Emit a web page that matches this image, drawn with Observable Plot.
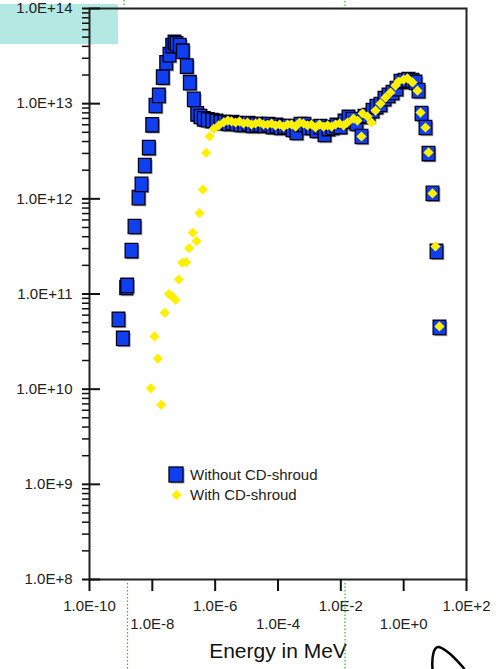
<!DOCTYPE html>
<html><head><meta charset="utf-8">
<script src="https://cdn.jsdelivr.net/npm/d3@7"></script>
<script src="https://cdn.jsdelivr.net/npm/@observablehq/plot@0.6"></script>
<style>html,body{margin:0;padding:0;background:#fff;} #chart{width:502px;height:669px;overflow:hidden;position:relative;}</style>
</head><body><div id="chart"></div>
<script>
// ---- data ----
const seriesNames = ["Without CD-shroud", "With CD-shroud"];

const energyWithout = [
  8.37e-10, 1.15e-9, 1.47e-9, 1.58e-9, 2.17e-9, 2.71e-9, 3.63e-9, 4.52e-9, 5.75e-9, 7.73e-9,
  9.91e-9, 1.26e-8, 1.61e-8, 2.15e-8, 2.76e-8, 3.52e-8, 4.29e-8, 5.08e-8, 5.87e-8, 7.48e-8,
  9.33e-8, 1.25e-7, 1.56e-7, 2.09e-7, 2.68e-7, 3.41e-7, 4.35e-7, 5.82e-7, 8.04e-7,
  1.10e-6, 1.48e-6, 1.98e-6, 2.65e-6, 3.56e-6, 4.78e-6, 6.40e-6, 8.59e-6, 1.15e-5, 1.54e-5,
  2.07e-5, 2.77e-5, 3.72e-5, 4.99e-5, 6.68e-5, 8.95e-5, 1.20e-4, 1.61e-4, 2.16e-4, 2.89e-4,
  3.88e-4, 5.20e-4, 6.97e-4, 9.35e-4, 1.25e-3, 1.68e-3, 2.25e-3, 3.02e-3, 4.05e-3, 5.43e-3,
  7.28e-3, 9.75e-3, 1.31e-2, 1.75e-2, 2.35e-2, 3.15e-2, 4.55e-2, 5.66e-2, 7.59e-2, 0.102,
  0.136, 0.183, 0.245, 0.329, 0.441, 0.591, 0.792, 1.06, 1.42, 1.91,
  2.38, 2.97, 3.70, 4.95, 6.17, 8.28, 11.1, 13.8
];
const fluxWithout = [
  5.40e10, 3.41e10, 1.17e11, 1.23e11, 2.86e11, 5.12e11, 1.03e12, 1.42e12, 2.24e12, 3.46e12,
  6.00e12, 9.57e12, 1.22e13, 1.90e13, 2.69e13, 3.27e13, 4.08e13, 4.40e13, 4.26e13, 4.08e13,
  3.56e13, 2.48e13, 1.66e13, 1.11e13, 7.83e12, 7.33e12, 6.93e12, 6.78e12, 6.65e12,
  6.50e12, 6.34e12, 6.34e12, 6.19e12, 6.34e12, 6.19e12, 6.04e12, 6.04e12, 6.19e12, 5.90e12,
  6.04e12, 6.04e12, 5.90e12, 6.04e12, 5.75e12, 5.90e12, 5.62e12, 5.75e12, 5.75e12, 5.35e12,
  4.98e12, 6.04e12, 6.04e12, 5.62e12, 5.62e12, 5.23e12, 5.75e12, 4.74e12, 5.48e12, 5.62e12,
  5.90e12, 5.75e12, 6.50e12, 7.16e12, 6.82e12, 6.19e12, 4.52e12, 7.33e12, 7.51e12, 8.47e12,
  9.33e12, 9.80e12, 1.13e13, 1.22e13, 1.31e13, 1.44e13, 1.71e13, 1.75e13, 1.79e13, 1.75e13,
  1.67e13, 1.37e13, 7.88e12, 5.62e12, 2.99e12, 1.14e12, 2.80e11, 4.45e10
];

const energyWith = [
  8.93e-9, 1.17e-8, 1.49e-8, 1.91e-8, 2.49e-8, 3.34e-8, 4.07e-8, 5.46e-8, 6.95e-8, 8.93e-8,
  1.20e-7, 1.49e-7, 1.94e-7, 2.55e-7, 3.17e-7, 4.04e-7, 5.19e-7, 6.61e-7, 9.04e-7, 1.30e-6,
  1.88e-6, 2.52e-6, 3.31e-6, 4.44e-6, 5.94e-6, 7.98e-6, 1.07e-5, 1.43e-5, 1.92e-5, 2.58e-5,
  3.45e-5, 4.63e-5, 6.21e-5, 8.32e-5, 1.12e-4, 1.50e-4, 2.00e-4, 2.69e-4, 3.61e-4, 4.83e-4,
  6.48e-4, 8.69e-4, 1.16e-3, 1.56e-3, 2.09e-3, 2.81e-3, 3.77e-3, 5.05e-3, 6.76e-3, 9.07e-3,
  1.22e-2, 1.63e-2, 2.53e-2, 3.39e-2, 4.55e-2, 4.90e-2, 7.06e-2, 9.46e-2, 0.127, 0.183,
  0.264, 0.381, 0.550, 0.684, 0.988, 1.32, 1.91, 2.75, 3.44, 4.95,
  6.17, 8.28, 10.3, 13.8
];
const fluxWith = [
  1.02e10, 3.58e10, 2.09e10, 6.85e9, 6.35e10, 1.00e11, 9.60e10, 8.69e10, 1.42e11, 2.13e11,
  2.16e11, 3.03e11, 4.40e11, 3.59e11, 7.06e11, 1.25e12, 3.05e12, 4.52e12, 5.44e12, 5.90e12,
  6.38e12, 6.65e12, 6.50e12, 6.34e12, 6.50e12, 6.19e12, 6.34e12, 6.04e12, 6.19e12, 6.34e12,
  6.04e12, 6.04e12, 6.19e12, 5.90e12, 6.04e12, 5.75e12, 6.04e12, 6.04e12, 5.75e12, 6.34e12,
  6.19e12, 5.90e12, 6.04e12, 5.62e12, 6.04e12, 5.75e12, 5.90e12, 5.75e12, 6.04e12, 6.19e12,
  5.90e12, 6.34e12, 6.98e12, 6.65e12, 4.52e12, 7.88e12, 7.33e12, 6.34e12, 8.47e12, 1.00e13,
  1.16e13, 1.31e13, 1.55e13, 1.71e13, 1.79e13, 1.84e13, 1.67e13, 1.37e13, 8.07e12, 5.62e12,
  3.07e12, 1.14e12, 3.16e11, 4.56e10
];

const xTickValues = [1e-10, 1e-8, 1e-6, 1e-4, 1e-2, 1e0, 1e2];
const xTickLabels = ["1.0E-10", "1.0E-8", "1.0E-6", "1.0E-4", "1.0E-2", "1.0E+0", "1.0E+2"];
const yTickValues = [1e8, 1e9, 1e10, 1e11, 1e12, 1e13, 1e14];
const yTickLabels = ["1.0E+8", "1.0E+9", "1.0E+10", "1.0E+11", "1.0E+12", "1.0E+13", "1.0E+14"];
const xTitle = "Energy in MeV";

// ---- tables ----
const without = energyWithout.map((e, i) => ({energy: e, flux: fluxWithout[i]}));
const withS = energyWith.map((e, i) => ({energy: e, flux: fluxWith[i]}));
const xLabel = new Map(xTickValues.map((v, i) => [v, xTickLabels[i]]));
const yLabel = new Map(yTickValues.map((v, i) => [v, yTickLabels[i]]));
const xRow1 = xTickValues.filter((d, i) => i % 2 === 0);
const xRow2 = xTickValues.filter((d, i) => i % 2 === 1);
const yMinor = [];
yTickValues.slice(0, -1).forEach(v => { for (let k = 2; k <= 9; k++) yMinor.push(k * v); });

const blue = "#0f3ff0";
const yellow = "#fff000";
const rectSymbol = {
  draw(ctx, size) {
    const r = Math.sqrt(size / Math.PI);
    ctx.moveTo(-0.88 * r, -r); ctx.lineTo(0.88 * r, -r);
    ctx.lineTo(0.88 * r, r); ctx.lineTo(-0.88 * r, r); ctx.closePath();
  }
};

const chart = Plot.plot({
  width: 502,
  height: 669,
  marginLeft: 89,
  marginRight: 36,
  marginTop: 8,
  marginBottom: 90,
  style: {fontFamily: "'Liberation Sans', Arial, sans-serif", fontSize: "15px", color: "#222", background: "#fff"},
  x: {type: "log", domain: [1e-10, 1e2], label: null},
  y: {type: "log", domain: [1e8, 1e14], label: null},
  marks: [
    Plot.dot(without, {x: "energy", y: "flux", symbol: rectSymbol, r: 7.2, fill: "#9c9c9c", dx: 1.5, dy: 1.5}),
    Plot.dot(without, {x: "energy", y: "flux", symbol: rectSymbol, r: 7.2, fill: blue, stroke: "#000018", strokeWidth: 1.3}),
    Plot.dot(withS, {x: "energy", y: "flux", symbol: "diamond2", r: 4.6, fill: yellow}),
    Plot.frame({stroke: "#222", strokeWidth: 2}),
    Plot.axisX({ticks: xRow1, tickSize: 12, tickPadding: 9, strokeWidth: 2, stroke: "#111", fontSize: 15, fill: "#222", tickFormat: d => xLabel.get(d), label: null}),
    Plot.axisX({ticks: xRow2, tickSize: 12, tickPadding: 27, strokeWidth: 2, stroke: "#111", fontSize: 15, fill: "#222", tickFormat: d => xLabel.get(d), label: null}),
    Plot.axisY({ticks: yTickValues, tickSize: 0, tickPadding: 17, fontSize: 15, fill: "#222", tickFormat: d => yLabel.get(d), label: null}),
    Plot.axisY({ticks: yTickValues, tickSize: 18, dx: 11, strokeWidth: 2, stroke: "#111", tickFormat: () => "", label: null}),
    Plot.axisY({ticks: yMinor, tickSize: 7, strokeWidth: 1.5, stroke: "#111", tickFormat: () => "", label: null}),
    Plot.text([xTitle], {text: d => d, frameAnchor: "bottom", dy: 78, fontSize: 21, fill: "#111"})
  ]
});
document.getElementById("chart").appendChild(chart);

// ---- decorations and legend ----
const svg = d3.select(chart);
svg.insert("rect", ":first-child")
  .attr("x", 0).attr("y", 4).attr("width", 118).attr("height", 40).attr("fill", "#b3e9e2");
const dotted = [[124, 0, 6], [345, 1, 7], [127.5, 583, 669], [345, 583, 669]];
dotted.forEach(([x, y1, y2]) => svg.append("line")
  .attr("x1", x).attr("x2", x).attr("y1", y1).attr("y2", y2)
  .attr("stroke", "#2fb52f").attr("stroke-width", 1.2).attr("stroke-dasharray", "1.5,2"));
svg.append("path")
  .attr("d", "M432.5,669 C431.5,656 434,646 439,647 C446,649 456,659 464.5,669")
  .attr("fill", "none").attr("stroke", "#000").attr("stroke-width", 2.5);

const leg = svg.append("g")
  .attr("font-family", "'Liberation Sans', Arial, sans-serif")
  .attr("font-size", 15).attr("fill", "#222").attr("text-anchor", "start");
leg.append("rect").attr("x", 170.5).attr("y", 468.5).attr("width", 14).attr("height", 15).attr("fill", "#9c9c9c");
leg.append("rect").attr("x", 169).attr("y", 467).attr("width", 14).attr("height", 15).attr("fill", blue).attr("stroke", "#000018").attr("stroke-width", 1.3);
leg.append("text").attr("x", 190).attr("y", 475).attr("dy", "0.35em").attr("text-anchor", "start").text(seriesNames[0]);
leg.append("path").attr("d", "M176.5,490 L181.5,495 L176.5,500 L171.5,495 Z").attr("fill", yellow);
leg.append("text").attr("x", 190).attr("y", 495).attr("dy", "0.35em").attr("text-anchor", "start").text(seriesNames[1]);
</script>
</body></html>
